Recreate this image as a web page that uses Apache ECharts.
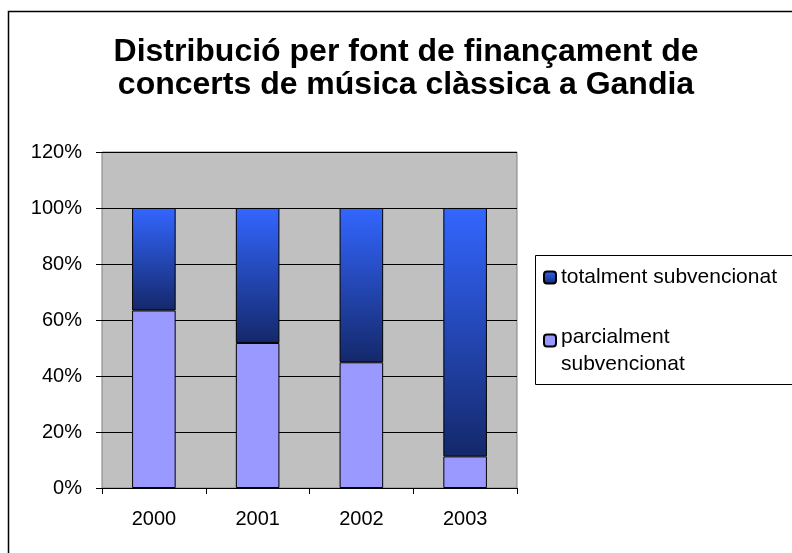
<!DOCTYPE html>
<html>
<head>
<meta charset="utf-8">
<script src="https://cdn.jsdelivr.net/npm/echarts@6/dist/echarts.min.js"></script>
<style>html,body{margin:0;padding:0;background:#fff}#c{width:792px;height:553px}</style>
</head>
<body>
<div id="c"></div>
<script>
var categories = ['2000', '2001', '2002', '2003'];
var parcialment = [63.4, 51.8, 44.9, 11.3];
var totalment = [36.6, 48.2, 55.1, 88.7];
var yTicks = [0, 20, 40, 60, 80, 100, 120];

var FONT = "Arial, 'Liberation Sans', sans-serif";
var darkGrad = new echarts.graphic.LinearGradient(0, 0, 0, 1, [
  {offset: 0, color: '#3366FF'},
  {offset: 1, color: '#14286A'}
]);

var chart = echarts.init(document.getElementById('c'), null, {renderer: 'canvas'});
chart.setOption({
  backgroundColor: '#ffffff',
  animation: false,
  title: {
    text: 'Distribució per font de finançament de\nconcerts de música clàssica a Gandia',
    left: 406,
    top: 35,
    textAlign: 'center',
    padding: 0,
    textStyle: {fontFamily: FONT, fontSize: 32, fontWeight: 'bold', color: '#000', lineHeight: 33.5}
  },
  graphic: [
    {type: 'rect', shape: {x: 8.5, y: 11.5, width: 800, height: 560}, style: {fill: 'none', stroke: '#000', lineWidth: 1.5}, z: 100},
    {type: 'rect', shape: {x: 535.5, y: 255.5, width: 300, height: 129}, style: {fill: 'none', stroke: '#000', lineWidth: 1}, z: 100}
  ],
  legend: [
    {
      data: ['totalment subvencionat'],
      orient: 'vertical', left: 543, top: 267, padding: 0,
      itemWidth: 12, itemHeight: 12, itemGap: 7,
      textStyle: {fontFamily: FONT, fontSize: 21, color: '#000', lineHeight: 20}
    },
    {
      data: ['parcialment subvencionat'],
      orient: 'vertical', left: 543, top: 312.5, padding: 0,
      itemWidth: 12, itemHeight: 12,
      formatter: function (n) {
        var parts = n.split(' ');
        return '{g| }\n{a|' + parts[0] + '}\n{a|' + parts[1] + '}';
      },
      textStyle: {
        fontFamily: FONT, fontSize: 21, color: '#000',
        rich: {
          g: {fontSize: 2, lineHeight: 21},
          a: {fontFamily: FONT, fontSize: 21, color: '#000', lineHeight: 27}
        }
      }
    }
  ],
  grid: {
    left: 102, right: 275, top: 152, bottom: 65,
    show: true, backgroundColor: '#C0C0C0', borderColor: '#808080', borderWidth: 1
  },
  xAxis: {
    type: 'category',
    data: categories,
    axisLine: {show: true, lineStyle: {color: '#000', width: 1}},
    axisTick: {show: true, length: 6, lineStyle: {color: '#000'}},
    axisLabel: {fontFamily: FONT, fontSize: 20, color: '#000', margin: 21}
  },
  yAxis: {
    type: 'value',
    min: 0, max: 120, interval: 20,
    axisLine: {show: false},
    axisTick: {show: true, length: 6, lineStyle: {color: '#000'}},
    axisLabel: {fontFamily: FONT, fontSize: 20, color: '#000', margin: 20, formatter: '{value}%'},
    splitLine: {show: true, lineStyle: {color: '#000', width: 1}}
  },
  series: [
    {
      name: 'parcialment subvencionat', type: 'bar', stack: 's', data: parcialment,
      barWidth: '42%',
      itemStyle: {color: '#9999FF', borderColor: '#000', borderWidth: 1}
    },
    {
      name: 'totalment subvencionat', type: 'bar', stack: 's', data: totalment,
      barWidth: '42%',
      itemStyle: {color: darkGrad, borderColor: '#000', borderWidth: 1}
    }
  ]
});
</script>
</body>
</html>
